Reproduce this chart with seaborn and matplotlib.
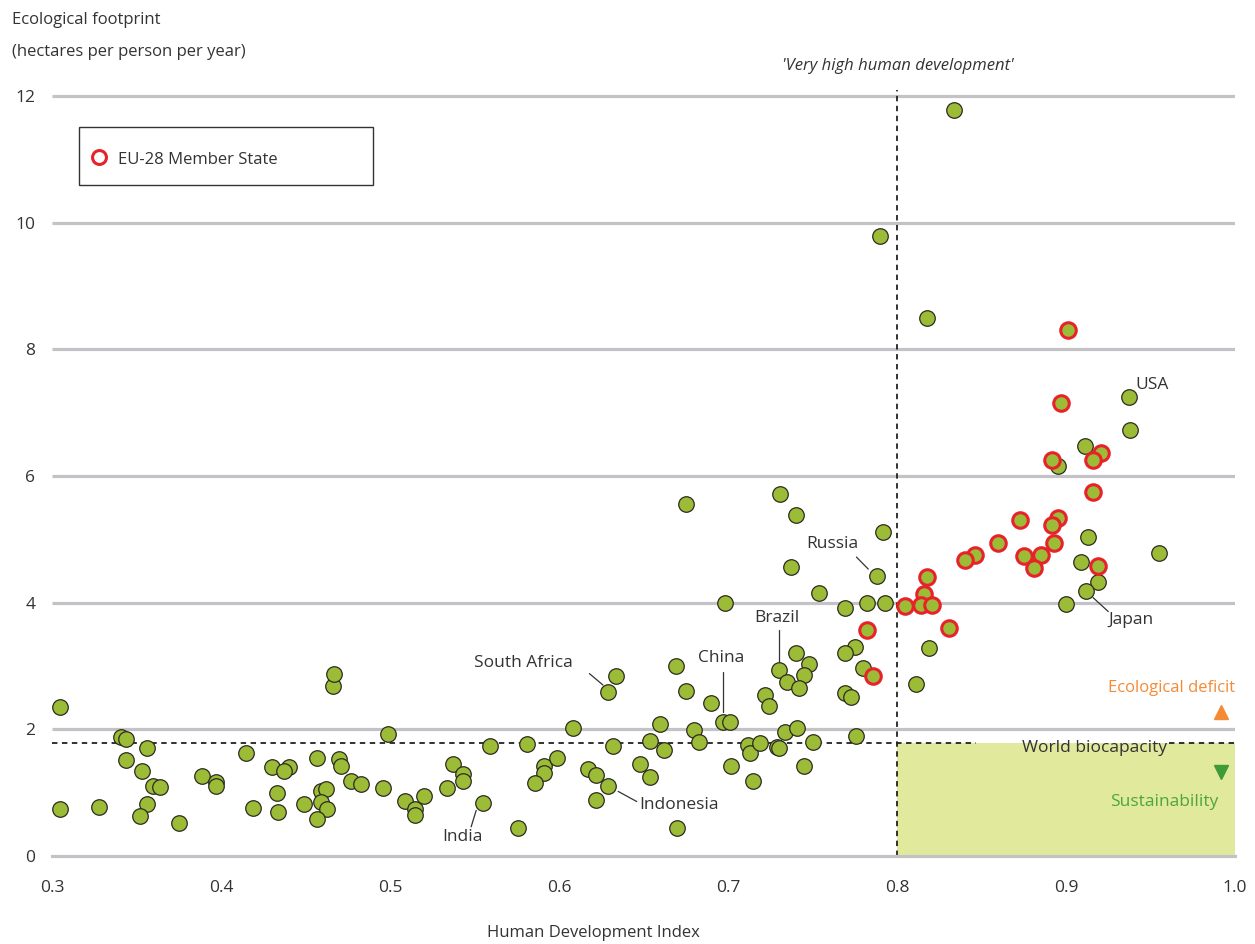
import matplotlib
matplotlib.use("Agg")
import matplotlib.pyplot as plt
from matplotlib.patches import Rectangle
from matplotlib.lines import Line2D
import seaborn as sns
import pandas as pd

# ---------------- data ----------------
other_hdi = [0.305, 0.305, 0.328, 0.341, 0.344, 0.356, 0.344, 0.353, 0.360, 0.364, 0.356, 0.352, 0.375,
             0.389, 0.397, 0.397, 0.415, 0.419, 0.430, 0.440, 0.437, 0.433, 0.434, 0.457, 0.449, 0.459,
             0.462, 0.459, 0.463, 0.457, 0.466, 0.467, 0.470, 0.471, 0.477, 0.483, 0.496, 0.499, 0.509,
             0.515, 0.515, 0.520, 0.537, 0.534, 0.543, 0.543, 0.555, 0.559, 0.576, 0.581, 0.591, 0.591,
             0.586, 0.599, 0.608, 0.617, 0.622, 0.629, 0.622, 0.629, 0.634, 0.632, 0.648, 0.654, 0.654,
             0.662, 0.660, 0.669, 0.675, 0.690, 0.680, 0.683, 0.670, 0.697, 0.701, 0.702, 0.715, 0.712,
             0.713, 0.719, 0.734, 0.741, 0.729, 0.730, 0.750, 0.745, 0.722, 0.724, 0.730, 0.735, 0.740,
             0.748, 0.745, 0.742, 0.675, 0.731, 0.740, 0.792, 0.737, 0.788, 0.754, 0.698, 0.769, 0.782,
             0.793, 0.775, 0.769, 0.780, 0.769, 0.773, 0.811, 0.776, 0.818, 0.834, 0.790, 0.937, 0.938,
             0.911, 0.895, 0.913, 0.909, 0.919, 0.912, 0.955, 0.900, 0.819]
other_footprint = [2.35, 0.74, 0.77, 1.88, 1.85, 1.71, 1.52, 1.34, 1.11, 1.09, 0.82, 0.63, 0.52,
                   1.26, 1.17, 1.11, 1.62, 0.76, 1.40, 1.40, 1.34, 0.99, 0.69, 1.55, 0.82, 1.02,
                   1.06, 0.85, 0.74, 0.58, 2.68, 2.87, 1.53, 1.42, 1.18, 1.14, 1.07, 1.93, 0.87,
                   0.75, 0.65, 0.94, 1.45, 1.07, 1.30, 1.18, 0.84, 1.74, 0.45, 1.77, 1.42, 1.31,
                   1.16, 1.55, 2.02, 1.38, 1.28, 1.11, 0.88, 2.59, 2.84, 1.73, 1.45, 1.25, 1.82,
                   1.68, 2.09, 3.00, 2.61, 2.42, 1.99, 1.80, 0.44, 2.12, 2.12, 1.42, 1.19, 1.76,
                   1.63, 1.79, 1.96, 2.02, 1.72, 1.71, 1.80, 1.42, 2.55, 2.37, 2.94, 2.74, 3.20,
                   3.03, 2.86, 2.66, 5.56, 5.72, 5.39, 5.11, 4.57, 4.42, 4.16, 4.00, 3.92, 4.00,
                   4.00, 3.30, 3.20, 2.97, 2.57, 2.51, 2.72, 1.89, 8.50, 11.78, 9.79, 7.24, 6.73,
                   6.47, 6.16, 5.04, 4.65, 4.33, 4.19, 4.79, 3.98, 3.28]

eu_hdi = [0.901, 0.897, 0.921, 0.916, 0.892, 0.916, 0.873, 0.895, 0.892, 0.893, 0.860, 0.846, 0.840,
          0.875, 0.885, 0.881, 0.919, 0.818, 0.816, 0.805, 0.814, 0.821, 0.831, 0.782, 0.786]
eu_footprint = [8.31, 7.16, 6.37, 6.25, 6.25, 5.74, 5.31, 5.33, 5.23, 4.94, 4.95, 4.76, 4.68,
                4.74, 4.76, 4.55, 4.58, 4.41, 4.14, 3.94, 3.96, 3.96, 3.60, 3.57, 2.84]

world_biocapacity = 1.78
very_high_threshold = 0.8

x_ticks = [0.3, 0.4, 0.5, 0.6, 0.7, 0.8, 0.9, 1.0]
x_tick_labels = ["0.3", "0.4", "0.5", "0.6", "0.7", "0.8", "0.9", "1.0"]
y_ticks = [0, 2, 4, 6, 8, 10, 12]
y_tick_labels = ["0", "2", "4", "6", "8", "10", "12"]

country_labels = ["USA", "Japan", "Russia", "Brazil", "China", "South Africa", "Indonesia", "India"]

# ---------------- style ----------------
sns.set_style("white")
plt.rcParams['font.family'] = ['Open Sans', 'DejaVu Sans']
TXT = "#333333"
GRID = "#c3c3c7"
FILL = "#9cbb37"
RED = "#e8222b"

fig = plt.figure(figsize=(12.55, 9.44), dpi=100)
ax = fig.add_axes([52 / 1255, 88 / 944, (1235 - 52) / 1255, 798 / 944])

df_other = pd.DataFrame({"hdi": other_hdi, "footprint": other_footprint})
df_eu = pd.DataFrame({"hdi": eu_hdi, "footprint": eu_footprint})

# sustainability zone
ax.add_patch(Rectangle((very_high_threshold, 0), 1.0 - very_high_threshold, world_biocapacity,
                       facecolor="#e1e99d", edgecolor="none", zorder=0))

# grid lines
for yv in y_ticks[1:]:
    ax.plot([0.3, 1.0], [yv, yv], color=GRID, lw=2.3, zorder=1, solid_capstyle="butt")

# world biocapacity dashed line (broken behind the text)
ax.plot([0.3, 0.847], [world_biocapacity] * 2, color="#222222", lw=1.3, ls=(0, (3, 2.5)), zorder=2)
ax.plot([0.961, 1.0], [world_biocapacity] * 2, color="#222222", lw=1.3, ls=(0, (3, 2.5)), zorder=2)
# very high development threshold
ax.plot([very_high_threshold] * 2, [0, 12.1], color="#222222", lw=1.3, ls=(0, (3, 2.5)), zorder=2)

sns.scatterplot(data=df_other, x="hdi", y="footprint", ax=ax, s=125, color=FILL,
                edgecolor="#2b2b1f", linewidth=0.9, zorder=3, legend=False)
sns.scatterplot(data=df_eu, x="hdi", y="footprint", ax=ax, s=125, color=FILL,
                edgecolor=RED, linewidth=2.2, zorder=4, legend=False)

ax.set_xlim(0.3, 1.0)
ax.set_ylim(0, 12.6)
ax.set_xticks(x_ticks)
ax.set_xticklabels(x_tick_labels)
ax.set_yticks(y_ticks)
ax.set_yticklabels(y_tick_labels)
ax.set_xlabel("")
ax.set_ylabel("")
for s in ["top", "right", "left"]:
    ax.spines[s].set_visible(False)
ax.spines["bottom"].set_color(GRID)
ax.spines["bottom"].set_linewidth(2.3)
ax.tick_params(axis="x", direction="in", length=9, width=1.8, color=GRID, pad=17,
               labelsize=12.5, labelcolor=TXT)
ax.tick_params(axis="y", length=0, pad=12, labelsize=12.5, labelcolor=TXT)

# axis titles
fig.text(593 / 1255, 1 - 933 / 944, "Human Development Index", ha="center", va="center",
         fontsize=12, color=TXT)
fig.text(12 / 1255, 1 - 20 / 944, "Ecological footprint", ha="left", va="center",
         fontsize=12, color=TXT)
fig.text(12 / 1255, 1 - 52 / 944, "(hectares per person per year)", ha="left", va="center",
         fontsize=12, color=TXT)

# threshold title
ax.text(0.8006, 12.47, "'Very high human development'", ha="center", va="center",
        fontsize=12, style="italic", color=TXT)

# zone texts
ax.text(1.0, 2.65, "Ecological deficit", ha="right", va="center", fontsize=12, color="#f58a35")
ax.plot([0.992], [2.27], marker="^", ms=9.5, color="#f58a35", ls="none", zorder=5)
ax.text(0.917, 1.71, "World biocapacity", ha="center", va="center", fontsize=12.5, color=TXT)
ax.plot([0.992], [1.33], marker="v", ms=9.5, color="#3f9a38", ls="none", zorder=5)
ax.text(0.990, 0.85, "Sustainability", ha="right", va="center", fontsize=12.5, color="#4ea53f")

# country labels
label_pos = [(0.941, 7.44, "left"), (0.925, 3.73, "left"), (0.7615, 4.93, "center"),
             (0.729, 3.76, "center"), (0.696, 3.12, "center"), (0.579, 3.05, "center"),
             (0.671, 0.81, "center"), (0.543, 0.30, "center")]
leaders = [None, ((0.916, 0.925), (4.08, 3.86)), ((0.776, 0.783), (4.72, 4.53)),
           ((0.730, 0.730), (3.57, 3.07)), ((0.697, 0.697), (2.91, 2.28)),
           ((0.618, 0.626), (2.88, 2.70)), ((0.635, 0.646), (1.02, 0.86)),
           ((0.551, 0.548), (0.72, 0.46))]
for name, (lx, ly, ha), ld in zip(country_labels, label_pos, leaders):
    ax.text(lx, ly, name, ha=ha, va="center", fontsize=12.5, color=TXT, zorder=6)
    if ld is not None:
        ax.plot(ld[0], ld[1], color="#333333", lw=0.9, zorder=6)

# legend box
fig.add_artist(Rectangle((79 / 1255, 1 - 185 / 944), 294 / 1255, 58 / 944, transform=fig.transFigure,
                         facecolor="white", edgecolor="#333333", lw=1.0))
fig.add_artist(Line2D([99 / 1255], [1 - 157 / 944], marker="o", ms=10, mfc="white", mec=RED, mew=2.2,
                      transform=fig.transFigure))
fig.text(118 / 1255, 1 - 160 / 944, "EU-28 Member State", ha="left", va="center", fontsize=12, color=TXT)

fig.savefig("out.png", dpi=100)
